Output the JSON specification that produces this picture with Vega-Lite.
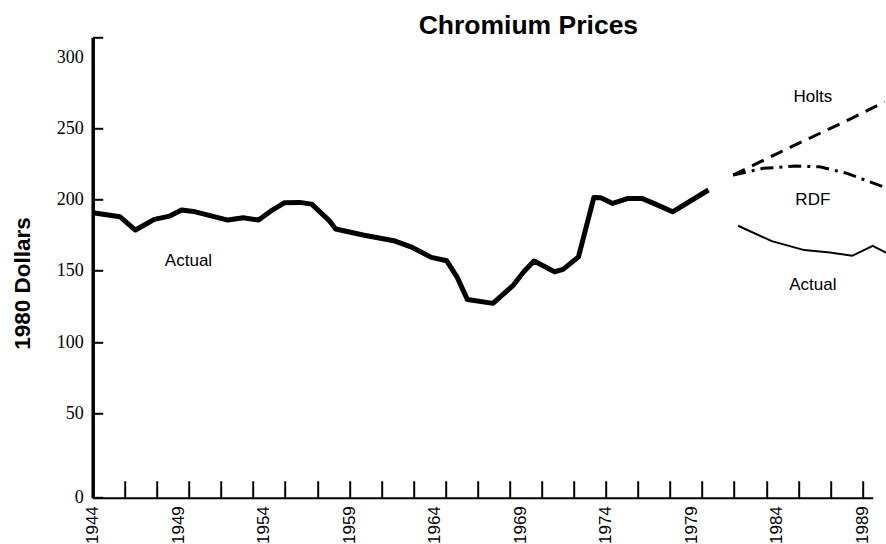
{
  "$schema": "https://vega.github.io/schema/vega-lite/v6.json",
  "width": 780,
  "height": 460.4,
  "autosize": {"type": "none"},
  "padding": {"left": 92.7, "top": 37.3, "right": 13.3, "bottom": 46.3},
  "background": "white",
  "config": {"view": {"stroke": null}},
  "title": {
    "text": "Chromium Prices",
    "font": "Liberation Sans",
    "fontSize": 26.5,
    "fontWeight": "bold",
    "color": "black",
    "anchor": "middle",
    "dx": 45.7,
    "dy": 35,
    "baseline": "alphabetic",
    "offset": 3
  },
  "datasets": {
    "actual": [
      {"year": 1944.0, "value": 190.7},
      {"year": 1945.6, "value": 187.9},
      {"year": 1946.5, "value": 178.6},
      {"year": 1947.6, "value": 186.1},
      {"year": 1948.5, "value": 188.4},
      {"year": 1949.2, "value": 192.6},
      {"year": 1950.0, "value": 191.4},
      {"year": 1951.9, "value": 185.6},
      {"year": 1952.8, "value": 187.2},
      {"year": 1953.7, "value": 185.6},
      {"year": 1954.5, "value": 192.6},
      {"year": 1955.2, "value": 197.7},
      {"year": 1956.1, "value": 198.0},
      {"year": 1956.8, "value": 196.8},
      {"year": 1957.8, "value": 185.6},
      {"year": 1958.2, "value": 179.3},
      {"year": 1959.8, "value": 175.1},
      {"year": 1961.6, "value": 171.1},
      {"year": 1962.6, "value": 166.8},
      {"year": 1963.8, "value": 159.4},
      {"year": 1964.7, "value": 157.0},
      {"year": 1965.3, "value": 145.6},
      {"year": 1965.9, "value": 129.9},
      {"year": 1967.4, "value": 127.1},
      {"year": 1968.6, "value": 140.0},
      {"year": 1969.2, "value": 149.3},
      {"year": 1969.8, "value": 156.8},
      {"year": 1971.0, "value": 149.3},
      {"year": 1971.5, "value": 151.0},
      {"year": 1972.4, "value": 159.8},
      {"year": 1973.3, "value": 201.5},
      {"year": 1973.7, "value": 201.2},
      {"year": 1974.4, "value": 197.3},
      {"year": 1975.3, "value": 200.8},
      {"year": 1976.1, "value": 200.8},
      {"year": 1976.8, "value": 197.3},
      {"year": 1977.9, "value": 191.4},
      {"year": 1980.0, "value": 206.7}
    ],
    "holts": [
      {"year": 1981.44, "value": 217.2},
      {"year": 1984.8, "value": 236.8},
      {"year": 1988.4, "value": 257.2},
      {"year": 1990.3, "value": 268.6}
    ],
    "rdf": [
      {"year": 1981.44, "value": 217.2},
      {"year": 1983.2, "value": 221.9},
      {"year": 1985.1, "value": 223.5},
      {"year": 1986.5, "value": 223.0},
      {"year": 1988.1, "value": 218.4},
      {"year": 1990.2, "value": 209.0}
    ],
    "actual2": [
      {"year": 1981.73, "value": 181.6},
      {"year": 1983.7, "value": 170.8},
      {"year": 1985.6, "value": 164.5},
      {"year": 1987.1, "value": 162.9},
      {"year": 1988.4, "value": 160.5},
      {"year": 1989.6, "value": 167.5},
      {"year": 1990.4, "value": 162.6}
    ],
    "labels": [
      {"year": 1949.6, "value": 156.8, "label": "Actual"},
      {"year": 1986.1, "value": 272.2, "label": "Holts"},
      {"year": 1986.1, "value": 199.6, "label": "RDF"},
      {"year": 1986.1, "value": 140.0, "label": "Actual"}
    ]
  },
  "resolve": {"axis": {"x": "independent"}},
  "layer": [
    {
      "data": {"name": "actual"},
      "mark": {"type": "line", "color": "black", "strokeWidth": 5, "strokeJoin": "round", "clip": false},
      "encoding": {
        "x": {
          "field": "year", "type": "quantitative",
          "scale": {"domain": [1944, 1989.6], "nice": false, "zero": false},
          "axis": {
            "orient": "bottom",
            "values": [1944, 1949, 1954, 1959, 1964, 1969, 1974, 1979, 1984, 1989],
            "format": "d",
            "labelAngle": -90,
            "labelFont": "Liberation Sans",
            "labelFontSize": 17,
            "labelColor": "black",
            "labelPadding": 8,
            "labelFlush": false,
            "labelOverlap": false,
            "labelBound": false,
            "ticks": false,
            "domain": true,
            "domainWidth": 2,
            "domainColor": "black",
            "grid": false,
            "title": null
          }
        },
        "y": {
          "field": "value", "type": "quantitative",
          "scale": {"domain": [-9.3, 313.9], "nice": false, "zero": false},
          "axis": {
            "values": [-9.3, 50, 100, 150, 200, 250, 300, 313.9],
            "labelExpr": "datum.value < 0 ? '0' : (datum.value > 310 ? '' : datum.label)",
            "labelFont": "Liberation Serif",
            "labelFontSize": 18,
            "labelColor": "black",
            "labelPadding": 19.4,
            "labelFlush": false,
            "labelOverlap": false,
            "tickSize": -10,
            "tickWidth": 2,
            "tickColor": "black",
            "tickOpacity": {"condition": {"test": "datum.value == 300", "value": 0}, "value": 1},
            "domainWidth": 3.5,
            "domainColor": "black",
            "grid": false,
            "title": "1980 Dollars",
            "titleFont": "Liberation Sans",
            "titleFontSize": 22.5,
            "titleFontWeight": "bold",
            "titleColor": "black",
            "titleAngle": -90,
            "titleAlign": "center",
            "titleBaseline": "alphabetic",
            "titleX": -63.4,
            "titleY": 245.7
          }
        }
      }
    },
    {
      "data": {"name": "holts"},
      "mark": {"type": "line", "color": "black", "strokeWidth": 3, "strokeDash": [13, 8], "clip": false},
      "encoding": {
        "x": {
          "field": "year", "type": "quantitative",
          "axis": {
            "orient": "bottom",
            "values": [1944, 1945.875, 1947.75, 1949.625, 1951.5, 1953.375, 1955.25, 1957.125, 1959, 1960.875, 1962.75, 1964.625, 1966.5, 1968.375, 1970.25, 1972.125, 1974, 1975.875, 1977.75, 1979.625, 1981.5, 1983.375, 1985.25, 1987.125, 1989],
            "labels": false,
            "ticks": true,
            "tickSize": -17,
            "tickWidth": 2,
            "tickColor": "black",
            "domain": false,
            "grid": false,
            "title": null
          }
        },
        "y": {"field": "value", "type": "quantitative"}
      }
    },
    {
      "data": {"name": "rdf"},
      "mark": {"type": "line", "color": "black", "strokeWidth": 3, "strokeDash": [13, 6, 3, 6], "clip": false},
      "encoding": {
        "x": {"field": "year", "type": "quantitative", "axis": null},
        "y": {"field": "value", "type": "quantitative"}
      }
    },
    {
      "data": {"name": "actual2"},
      "mark": {"type": "line", "color": "black", "strokeWidth": 2, "clip": false},
      "encoding": {
        "x": {"field": "year", "type": "quantitative", "axis": null},
        "y": {"field": "value", "type": "quantitative"}
      }
    },
    {
      "data": {"name": "labels"},
      "mark": {"type": "text", "font": "Liberation Sans", "fontSize": 17, "color": "black", "align": "center", "baseline": "middle", "clip": false},
      "encoding": {
        "x": {"field": "year", "type": "quantitative", "axis": null},
        "y": {"field": "value", "type": "quantitative"},
        "text": {"field": "label", "type": "nominal"}
      }
    }
  ]
}
